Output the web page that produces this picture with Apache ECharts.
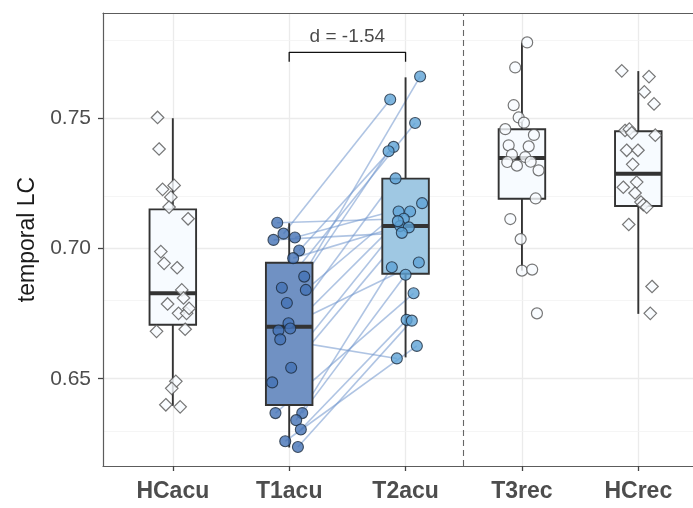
<!DOCTYPE html>
<html>
<head>
<meta charset="utf-8">
<script src="https://cdn.jsdelivr.net/npm/echarts@6/dist/echarts.min.js"></script>
<style>html,body{margin:0;padding:0;background:#fff;}#c{width:693px;height:508px;}</style>
</head>
<body>
<div id="c"></div>
<script>
// ---- data ----
const categories = ['HCacu', 'T1acu', 'T2acu', 'T3rec', 'HCrec'];
const yTicks = [0.65, 0.70, 0.75];
const yMinorTicks = [0.625, 0.675, 0.725, 0.775];
// box stats: [low whisker, Q1, median, Q3, high whisker]
const boxHCacu = [0.6396, 0.6707, 0.6828, 0.7150, 0.7500];
const boxT1acu = [0.6236, 0.6399, 0.6700, 0.6945, 0.7097];
const boxT2acu = [0.6582, 0.6903, 0.7086, 0.7268, 0.7657];
const boxT3rec = [0.6915, 0.7191, 0.7347, 0.7458, 0.7790];
const boxHCrec = [0.6749, 0.7163, 0.7287, 0.7450, 0.7681];

const hcAcuVals = [0.7503,0.7382,0.7227,0.7242,0.7197,0.7159,0.7114,0.6988,0.6943,0.6926,0.6841,0.6810,0.6787,0.6751,0.6751,0.6770,0.6682,0.6690,0.6490,0.6463,0.6400,0.6392];
const hcAcuJit  = [-0.131,-0.118,-0.088,0.011,-0.017,-0.032,0.131,-0.103,-0.075,0.037,0.077,0.092,-0.045,0.049,0.118,0.140,-0.140,0.106,0.026,-0.009,-0.060,0.063];

const t1Vals = [0.7099,0.7057,0.7033,0.7042,0.6992,0.6963,0.6892,0.6849,0.6841,0.6791,0.6713,0.6685,0.6693,0.6651,0.6542,0.6486,0.6368,0.6368,0.6341,0.6305,0.6260,0.6238];
const t1Jit  = [-0.103,-0.049,-0.135,0.049,0.086,0.034,0.129,-0.063,0.143,-0.020,-0.006,-0.092,0.009,-0.077,0.017,-0.146,-0.118,0.112,0.060,0.100,-0.034,0.075];

const t2Vals = [0.7660,0.7572,0.7482,0.7390,0.7373,0.7269,0.7174,0.7142,0.7142,0.7114,0.7086,0.7081,0.7060,0.6928,0.6946,0.6899,0.6828,0.6726,0.6723,0.6626,0.6578,0.7105];
const t2Jit  = [0.125,-0.132,0.082,-0.103,-0.146,-0.086,0.142,-0.060,0.039,-0.015,-0.046,0.028,-0.032,-0.118,0.114,0.000,0.069,0.009,0.054,0.097,-0.075,-0.066];
// index into t2 for each t1 subject
const pairT1toT2 = [9,1,12,6,3,10,4,2,7,0,5,14,21,20,11,8,16,15,13,17,19,18];

const t3Vals = [0.7791,0.7695,0.7550,0.7503,0.7483,0.7458,0.7436,0.7396,0.7392,0.7360,0.7351,0.7332,0.7318,0.7333,0.7300,0.7192,0.7113,0.7036,0.6915,0.6919,0.6751];
const t3Jit  = [0.045,-0.058,-0.071,-0.028,0.017,-0.143,0.103,-0.114,0.058,-0.086,0.028,-0.126,-0.043,0.075,0.143,0.118,-0.100,-0.011,0.000,0.088,0.129];

const hcRecVals = [0.7682,0.7660,0.7601,0.7555,0.7453,0.7458,0.7444,0.7435,0.7377,0.7377,0.7323,0.7255,0.7235,0.7213,0.7178,0.7168,0.7159,0.7092,0.6854,0.6751];
const hcRecJit  = [-0.142,0.092,0.052,0.135,-0.114,-0.077,-0.057,0.146,-0.100,-0.003,-0.048,-0.014,-0.129,-0.028,0.023,0.043,0.072,-0.082,0.118,0.103];

const effectLabel = 'd = -1.54';
const bracketY = [0.7717, 0.7753];
const labelY = 0.7812;
const separatorX = 3.5;

// ---- build ----
const boxes = [boxHCacu, boxT1acu, boxT2acu, boxT3rec, boxHCrec];
const boxFills = ['#f7fbff', '#7091c3', '#9fc8e3', '#f7fbff', '#f7fbff'];
const boxData = boxes.map((b, i) => [i + 1].concat(b));

function pts(vals, jit, cat) { return vals.map((v, i) => [cat + jit[i], v]); }
const pairLines = t1Vals.map((v, i) => {
  const j = pairT1toT2[i];
  return { coords: [[2 + t1Jit[i], v], [3 + t2Jit[j], t2Vals[j]]] };
});

const gridColor = '#ebebeb';
const markLines = [];
categories.forEach((c, i) => markLines.push({ xAxis: i + 1, lineStyle: { color: gridColor, width: 1.3, type: 'solid' } }));
yTicks.forEach(v => markLines.push({ yAxis: v, lineStyle: { color: gridColor, width: 1.3, type: 'solid' } }));
yMinorTicks.forEach(v => markLines.push({ yAxis: v, lineStyle: { color: '#f2f2f2', width: 0.8, type: 'solid' } }));

const chart = echarts.init(document.getElementById('c'), null, { renderer: 'canvas' });
const labelFont = '"Liberation Sans", Arial, sans-serif';
const borderLine = { show: true, onZero: false, lineStyle: { color: '#5c5c5c', width: 1.2 } };
chart.setOption({
  animation: false,
  backgroundColor: '#fff',
  grid: { left: 103, top: 13, bottom: 42, right: 0, show: false },
  xAxis: [{
    type: 'value', min: 0.4, max: 5.47,
    splitLine: { show: false },
    axisLine: borderLine,
    axisTick: { show: true, customValues: [1, 2, 3, 4, 5], length: 5, lineStyle: { color: '#444', width: 1.3 } },
    axisLabel: {
      customValues: [1, 2, 3, 4, 5],
      formatter: v => categories[Math.round(v) - 1],
      color: '#4d4d4d', fontWeight: 'bold', fontSize: 23, fontFamily: labelFont, margin: 14
    }
  }, {
    type: 'value', min: 0.4, max: 5.47, position: 'top',
    splitLine: { show: false }, axisTick: { show: false }, axisLabel: { show: false },
    axisLine: borderLine
  }],
  yAxis: {
    type: 'value', min: 0.6165, max: 0.7904,
    name: 'temporal LC', nameLocation: 'middle', nameGap: 63,
    nameTextStyle: { color: '#1a1a1a', fontSize: 23, fontFamily: labelFont },
    splitLine: { show: false },
    axisLine: borderLine,
    axisTick: { show: true, customValues: yTicks, length: 5, lineStyle: { color: '#444', width: 1.3 } },
    axisLabel: {
      customValues: yTicks,
      formatter: v => v.toFixed(2),
      color: '#4d4d4d', fontSize: 21, fontFamily: labelFont, margin: 12
    }
  },
  series: [
    {
      type: 'scatter', data: [], silent: true, z: 0,
      markLine: { silent: true, symbol: 'none', label: { show: false }, z: 0, data: markLines.concat([
        { xAxis: separatorX, lineStyle: { color: '#666', width: 1.1, type: [6, 4] } }
      ]) }
    },
    {
      type: 'lines', coordinateSystem: 'cartesian2d', z: 1, silent: true,
      lineStyle: { color: '#6d93cc', width: 1.6, opacity: 0.55 },
      data: pairLines
    },
    {
      type: 'custom', z: 2, silent: true,
      data: boxData,
      renderItem: function (params, api) {
        const x = api.value(0);
        const lo = api.coord([x, api.value(1)]);
        const q1 = api.coord([x, api.value(2)]);
        const md = api.coord([x, api.value(3)]);
        const q3 = api.coord([x, api.value(4)]);
        const hi = api.coord([x, api.value(5)]);
        const w = api.size([0.4, 0])[0];
        const cx = lo[0];
        const stroke = '#333';
        return {
          type: 'group', children: [
            { type: 'line', shape: { x1: cx, y1: hi[1], x2: cx, y2: q3[1] }, style: { stroke, lineWidth: 1.9 } },
            { type: 'line', shape: { x1: cx, y1: q1[1], x2: cx, y2: lo[1] }, style: { stroke, lineWidth: 1.9 } },
            { type: 'rect', shape: { x: cx - w / 2, y: q3[1], width: w, height: q1[1] - q3[1] }, style: { fill: boxFills[params.dataIndex], stroke, lineWidth: 1.9 } },
            { type: 'line', shape: { x1: cx - w / 2, y1: md[1], x2: cx + w / 2, y2: md[1] }, style: { stroke, lineWidth: 4 } }
          ]
        };
      }
    },
    {
      type: 'scatter', z: 3, symbol: 'diamond', symbolSize: 12.5, silent: true,
      itemStyle: { color: '#f7fbff', borderColor: '#555', borderWidth: 1.2 },
      data: pts(hcAcuVals, hcAcuJit, 1).concat(pts(hcRecVals, hcRecJit, 5))
    },
    {
      type: 'scatter', z: 3, symbol: 'circle', symbolSize: 11, silent: true,
      itemStyle: { color: '#f7fbff', borderColor: '#555', borderWidth: 1.2 },
      data: pts(t3Vals, t3Jit, 4)
    },
    {
      type: 'scatter', z: 3, symbol: 'circle', symbolSize: 11, silent: true,
      itemStyle: { color: '#4472b5', borderColor: '#1c2a3c', borderWidth: 1.1 },
      data: pts(t1Vals, t1Jit, 2)
    },
    {
      type: 'scatter', z: 3, symbol: 'circle', symbolSize: 11, silent: true,
      itemStyle: { color: '#5ea3d6', borderColor: '#1c2a3c', borderWidth: 1.1 },
      data: pts(t2Vals, t2Jit, 3)
    },
    {
      type: 'line', z: 4, silent: true, symbol: 'none',
      lineStyle: { color: '#111', width: 1.3 },
      data: [[2, bracketY[0]], [2, bracketY[1]], [3, bracketY[1]], [3, bracketY[0]]]
    },
    {
      type: 'scatter', z: 4, silent: true, symbolSize: 0,
      label: { show: true, position: 'inside', formatter: effectLabel, color: '#1a1a1a', fontSize: 19, fontFamily: labelFont },
      data: [[2.5, labelY]]
    }
  ]
});
</script>
</body>
</html>
